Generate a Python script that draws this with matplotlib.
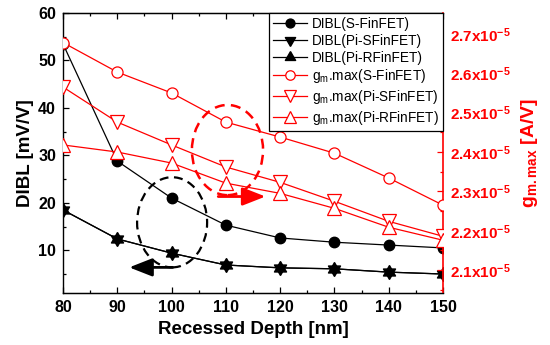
import matplotlib
matplotlib.use("Agg")
import matplotlib.pyplot as plt
from matplotlib.patches import Ellipse
from matplotlib.ticker import MultipleLocator, FixedLocator

plt.rcParams['font.family'] = ['Liberation Sans', 'DejaVu Sans']
plt.rcParams['mathtext.fontset'] = 'custom'
plt.rcParams['mathtext.rm'] = 'Liberation Sans:bold'
plt.rcParams['mathtext.bf'] = 'Liberation Sans:bold'
plt.rcParams['mathtext.it'] = 'Liberation Sans:bold'
plt.rcParams['mathtext.sf'] = 'Liberation Sans'

# ---- data ----
depth = [80, 90, 100, 110, 120, 130, 140, 150]
dibl_s = [53.5, 28.8, 21.0, 15.3, 12.6, 11.7, 11.1, 10.5]
dibl_pis = [18.5, 12.4, 9.4, 6.9, 6.3, 6.1, 5.4, 5.0]
dibl_pir = [18.5, 12.4, 9.4, 6.9, 6.3, 6.1, 5.4, 5.0]
gm_s = [2.678, 2.603, 2.550, 2.476, 2.438, 2.397, 2.334, 2.265]
gm_pis = [2.565, 2.476, 2.418, 2.362, 2.323, 2.275, 2.224, 2.186]
gm_pir = [2.418, 2.400, 2.372, 2.321, 2.295, 2.257, 2.209, 2.176]
gm_scale = 1e-5
gm_ticks = [2.1, 2.2, 2.3, 2.4, 2.5, 2.6, 2.7]
x_ticks = [80, 90, 100, 110, 120, 130, 140, 150]
y_ticks = [10, 20, 30, 40, 50, 60]

# centroid-centred triangles (so overlapping up/down triangles form a star)
TRI_DOWN = [(0, -1), (-0.866, 0.5), (0.866, 0.5), (0, -1)]
TRI_UP = [(0, 1), (-0.866, -0.5), (0.866, -0.5), (0, 1)]

fig = plt.figure(figsize=(5.5, 3.45), dpi=100)
ax = fig.add_axes([0.1145, 0.1507, 0.691, 0.8116])
ax2 = ax.twinx()

RED = '#ff0000'
lw = 0.9

l1, = ax.plot(depth, dibl_s, '-', color='black', lw=lw, marker='o', ms=7.5,
              mfc='black', mec='black', label='DIBL(S-FinFET)', zorder=3)
l2, = ax.plot(depth, dibl_pis, '-', color='black', lw=lw, marker=TRI_DOWN, ms=10,
              mfc='black', mec='black', label='DIBL(Pi-SFinFET)', zorder=3)
l3, = ax.plot(depth, dibl_pir, '-', color='black', lw=lw, marker=TRI_UP, ms=10,
              mfc='black', mec='black', label='DIBL(Pi-RFinFET)', zorder=3)

gs = [v * gm_scale for v in gm_s]
gps = [v * gm_scale for v in gm_pis]
gpr = [v * gm_scale for v in gm_pir]
l4, = ax2.plot(depth, gs, '-', color=RED, lw=lw, marker='o', ms=8,
               mfc='white', mec=RED, mew=0.9,
               label=r'g$_\mathsf{m}$.max(S-FinFET)', zorder=3)
l5, = ax2.plot(depth, gps, '-', color=RED, lw=lw, marker='v', ms=9.5,
               mfc='white', mec=RED, mew=0.9,
               label=r'g$_\mathsf{m}$.max(Pi-SFinFET)', zorder=3)
l6, = ax2.plot(depth, gpr, '-', color=RED, lw=lw, marker='^', ms=9.5,
               mfc='white', mec=RED, mew=0.9,
               label=r'g$_\mathsf{m}$.max(Pi-RFinFET)', zorder=3)

ax.set_xlim(80, 150)
ax.set_ylim(1, 60)
ax2.set_ylim(2.042e-5, 2.753e-5)

ax.xaxis.set_major_locator(FixedLocator(x_ticks))
ax.xaxis.set_minor_locator(MultipleLocator(5))
ax.yaxis.set_major_locator(FixedLocator(y_ticks))
ax.yaxis.set_minor_locator(MultipleLocator(5))
ax.tick_params(axis='both', which='both', direction='in', top=True, right=False)
ax.tick_params(which='major', length=4, width=0.9, labelsize=11.5, pad=5)
ax.tick_params(which='minor', length=2.5, width=0.9)
for t in ax.get_xticklabels() + ax.get_yticklabels():
    t.set_fontweight('bold')

ax2.yaxis.set_major_locator(FixedLocator([v * gm_scale for v in gm_ticks]))
ax2.yaxis.set_minor_locator(MultipleLocator(0.05 * gm_scale))
ax2.set_yticklabels([r'%.1fx10$^{-5}$' % v for v in gm_ticks])
ax2.tick_params(axis='y', which='both', direction='in', colors=RED)
ax2.tick_params(axis='y', which='major', length=4, width=0.9, labelsize=11, pad=5)
ax2.tick_params(axis='y', which='minor', length=2.5, width=0.9)
for t in ax2.get_yticklabels():
    t.set_fontweight('bold')

for s in ['left', 'bottom', 'top']:
    ax.spines[s].set_linewidth(1.0)
ax2.spines['right'].set_color(RED)
ax2.spines['right'].set_linewidth(1.2)
ax2.spines['left'].set_visible(False)
ax.spines['right'].set_visible(False)

ax.set_xlabel('Recessed Depth [nm]', fontsize=13.5, fontweight='bold', labelpad=4)
ax.set_ylabel('DIBL [mV/V]', fontsize=13.5, fontweight='bold', labelpad=3)
ax2.set_ylabel(r'g$_{\mathrm{m.max}}$ [A/V]', fontsize=14, fontweight='bold',
               color=RED, labelpad=6)

# annotations
ax.add_patch(Ellipse((100.1, 15.9), 12.9, 19.0, fill=False, ec='black',
                     lw=1.6, ls=(0, (4, 2.5)), zorder=4))
ax.annotate('', xy=(92.2, 6.4), xytext=(100.2, 6.4),
            arrowprops=dict(arrowstyle='-|>,head_length=1.4,head_width=0.55',
                            color='black', lw=2.0, shrinkA=0, shrinkB=0), zorder=5)
ax2.add_patch(Ellipse((110.3, 2.405e-5), 13.1, 0.229e-5, fill=False, ec=RED,
                      lw=1.8, ls=(0, (4, 2.5)), zorder=4))
ax2.annotate('', xy=(117.3, 2.287e-5), xytext=(108.6, 2.287e-5),
             arrowprops=dict(arrowstyle='-|>,head_length=1.4,head_width=0.55',
                             color=RED, lw=2.0, shrinkA=0, shrinkB=0), zorder=5)

handles = [l1, l2, l3, l4, l5, l6]
leg = ax2.legend(handles=handles, loc='upper right', bbox_to_anchor=(1.0, 1.0),
                 fontsize=9.8, frameon=True, fancybox=False, framealpha=1,
                 edgecolor='black', borderaxespad=0, handlelength=2.5,
                 handletextpad=0.35, labelspacing=0.2, borderpad=0.3,
                 markerscale=0.85)
leg.get_frame().set_linewidth(0.9)
leg.set_zorder(10)

fig.savefig('out.png', dpi=100)
